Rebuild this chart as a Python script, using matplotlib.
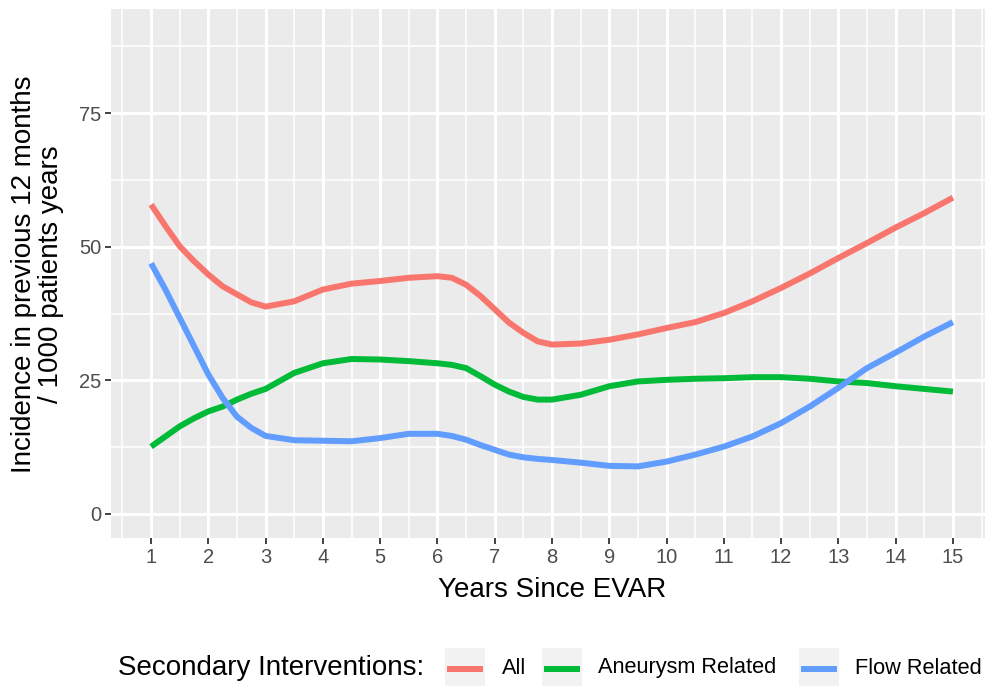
import matplotlib
matplotlib.use("Agg")
import matplotlib.pyplot as plt
from matplotlib.patches import Rectangle
from matplotlib.lines import Line2D

plt.rcParams['font.family'] = ['Liberation Sans', 'DejaVu Sans']

years = [1, 1.25, 1.5, 1.75, 2, 2.25, 2.5, 2.75, 3,
         3.5, 4, 4.5, 5, 5.5,
         6, 6.25, 6.5, 6.75, 7, 7.25, 7.5, 7.75, 8,
         8.5, 9, 9.5, 10, 10.5, 11, 11.5, 12, 12.5, 13, 13.5, 14, 14.5, 15]
all_vals = [57.9, 53.9, 50.1, 47.3, 44.8, 42.6, 41.1, 39.6, 38.8,
            39.8, 42.0, 43.1, 43.6, 44.2,
            44.5, 44.2, 42.9, 40.8, 38.3, 35.8, 33.9, 32.3, 31.7,
            31.9, 32.6, 33.6, 34.8, 35.9, 37.6, 39.8, 42.3, 45.0, 47.9, 50.7, 53.6, 56.3, 59.2]
aneurysm_vals = [12.6, 14.5, 16.4, 17.9, 19.2, 20.1, 21.4, 22.5, 23.4,
                 26.4, 28.2, 29.0, 28.9, 28.6,
                 28.2, 27.9, 27.3, 25.8, 24.2, 22.9, 21.9, 21.4, 21.4,
                 22.3, 23.9, 24.8, 25.1, 25.3, 25.4, 25.6, 25.6, 25.3, 24.8, 24.5, 23.9, 23.4, 22.9]
flow_vals = [46.9, 42.0, 36.7, 31.4, 26.1, 21.7, 18.2, 16.1, 14.6,
             13.8, 13.7, 13.6, 14.2, 15.0,
             15.0, 14.6, 13.9, 12.9, 12.0, 11.1, 10.6, 10.3, 10.1,
             9.6, 9.0, 8.9, 9.8, 11.1, 12.6, 14.5, 17.0, 20.1, 23.6, 27.3, 30.2, 33.2, 35.9]
series_names = ["All", "Aneurysm Related", "Flow Related"]
colors = ["#F8766D", "#00BA38", "#619CFF"]
x_ticks = list(range(1, 16))
y_ticks = [0, 25, 50, 75]

W, H = 985, 686
fig = plt.figure(figsize=(W / 100, H / 100), dpi=100)

def fx(px):
    return px / W

def fy(py):
    return 1 - py / H

ax = fig.add_axes([fx(111), fy(538), fx(993) - fx(111), fy(9) - fy(538)])
ax.set_facecolor("#EBEBEB")
for s in ax.spines.values():
    s.set_visible(False)

ax.set_xlim(0.3, 15.7)
ax.set_ylim(-4.5, 94.5)
ax.set_xticks(x_ticks)
ax.set_yticks(y_ticks)
ax.set_xticks([v + 0.5 for v in range(0, 16)], minor=True)
ax.set_yticks([12.5, 37.5, 62.5, 87.5], minor=True)
ax.grid(which="major", color="white", lw=2.2)
ax.grid(which="minor", color="white", lw=1.1)
ax.set_axisbelow(True)
ax.tick_params(which="major", length=4.5, width=1.3, color="#333333",
               labelsize=14.5, labelcolor="#4D4D4D", pad=2.5)
ax.tick_params(which="minor", length=0)

for vals, c in zip([all_vals, aneurysm_vals, flow_vals], colors):
    ax.plot(years, vals, color=c, lw=4.3, solid_capstyle="butt", solid_joinstyle="round")

fig.text(fx(552), fy(590), "Years Since EVAR", ha="center", va="center", fontsize=20)
fig.text(fx(38), fy(274), "Incidence in previous 12 months\n/ 1000 patients years",
         ha="center", va="center", rotation=90, fontsize=20, multialignment="center",
         linespacing=1.05)

# legend
ly = 668
fig.text(fx(118), fy(ly), "Secondary Interventions:", ha="left", va="center", fontsize=20)
key_x = [445, 542, 799]
lab_x = [502, 598, 855]
for kx, lx, name, c in zip(key_x, lab_x, series_names, colors):
    fig.patches.append(Rectangle((fx(kx), fy(ly + 20)), fx(40), fy(ly - 20) - fy(ly + 20),
                                 transform=fig.transFigure, facecolor="#F2F2F2",
                                 edgecolor="none"))
    fig.lines.append(Line2D([fx(kx + 2), fx(kx + 38)], [fy(ly + 1), fy(ly + 1)],
                            transform=fig.transFigure, color=c, lw=4.3,
                            solid_capstyle="butt"))
    fig.text(fx(lx), fy(ly), name, ha="left", va="center", fontsize=15.7)

fig.savefig("out.png", dpi=100)
